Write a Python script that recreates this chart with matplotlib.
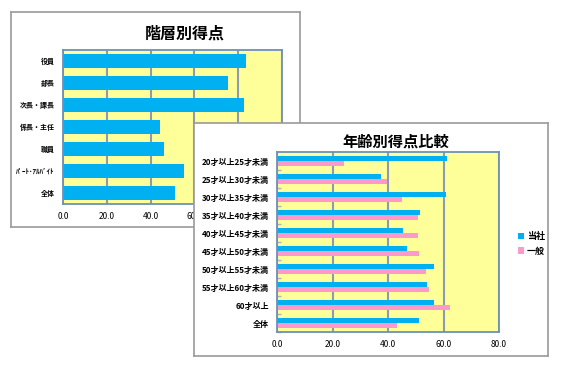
import matplotlib.pyplot as plt
import numpy as np

plt.rcParams['font.family'] = ['Noto Sans CJK JP', 'DejaVu Sans']

# chart 1 data
rank_labels = ['役員', '部長', '次長・課長', '係長・主任', '職員', 'ﾊﾟｰﾄ･ｱﾙﾊﾞｲﾄ', '全体']
rank_scores = [83.4, 75.3, 82.5, 44.3, 46.1, 55.4, 51.1]

# chart 2 data
age_labels = ['20才以上25才未満', '25才以上30才未満', '30才以上35才未満', '35才以上40才未満',
              '40才以上45才未満', '45才以上50才未満', '50才以上55才未満', '55才以上60才未満',
              '60才以上', '全体']
company_scores = [61.3, 37.6, 60.8, 51.4, 45.4, 46.7, 56.7, 53.9, 56.7, 51.1]
general_scores = [24.0, 39.6, 44.9, 50.7, 50.9, 51.3, 53.8, 54.9, 62.5, 43.1]
series_names = ['当社', '一般']

W, H = 564, 371
BLUE = '#00b0f0'
PINK = '#ff99cc'
YELLOW = '#ffff99'
GRID = '#8c9cb0'
BORDER = '#7090b8'
FRAME = '#9a9a9a'

fig = plt.figure(figsize=(W / 100, H / 100), dpi=100)


def px_axes(x0, y0, x1, y1, z):
    return fig.add_axes([x0 / W, 1 - y1 / H, (x1 - x0) / W, (y1 - y0) / H], zorder=z)


def frame_box(x0, y0, x1, y1, z):
    ax = px_axes(x0, y0, x1, y1, z)
    ax.set_xticks([])
    ax.set_yticks([])
    ax.set_facecolor('white')
    for s in ax.spines.values():
        s.set_color(FRAME)
        s.set_linewidth(1.2)
    return ax


def style_plot(ax):
    ax.set_facecolor(YELLOW)
    for s in ax.spines.values():
        s.set_color(BORDER)
        s.set_linewidth(1.3)
    ax.grid(axis='x', color=GRID, linewidth=1.5)
    ax.set_axisbelow(True)
    ax.tick_params(axis='x', length=0, labelsize=6, pad=6)
    ax.tick_params(axis='y', length=0, pad=6)


# ---- chart 1 (partly hidden behind chart 2) ----
fr1 = frame_box(11, 12, 300, 227, 1)
fr1.text(0.6, 0.9, '階層別得点', transform=fr1.transAxes, ha='center', va='center',
         fontsize=11.5, fontweight='bold')

ax1 = px_axes(63, 50, 282, 204, 2)
style_plot(ax1)
y1 = np.arange(len(rank_labels))
ax1.barh(y1, rank_scores, height=0.6, color=BLUE)
ax1.set_xlim(0, 100)
ax1.set_ylim(len(rank_labels) - 0.5, -0.5)
ticks1 = np.arange(0, 101, 20)
ax1.set_xticks(ticks1)
# labels 80.0 and 100.0 sit under chart 2 anyway
ax1.set_xticklabels([f'{v:.1f}' if v <= 60 else '' for v in ticks1])
ax1.set_yticks(y1)
ax1.set_yticklabels(rank_labels, fontsize=5, fontweight='bold')

# ---- chart 2 ----
fr2 = frame_box(194, 123, 548, 356, 3)
fr2.text(0.57, 0.92, '年齢別得点比較', transform=fr2.transAxes, ha='center', va='center',
         fontsize=11, fontweight='bold')

ax2 = px_axes(277, 152, 499, 332, 4)
style_plot(ax2)
y2 = np.arange(len(age_labels))
bh = 0.3
ax2.barh(y2 - bh / 2, company_scores, height=bh, color=BLUE, label=series_names[0])
ax2.barh(y2 + bh / 2, general_scores, height=bh, color=PINK, label=series_names[1])
ax2.set_xlim(0, 80)
ax2.set_ylim(len(age_labels) - 0.5, -0.5)
ticks2 = np.arange(0, 81, 20)
ax2.set_xticks(ticks2)
ax2.set_xticklabels([f'{v:.1f}' for v in ticks2])
ax2.set_yticks(y2)
ax2.set_yticklabels(age_labels, fontsize=5.8, fontweight='bold')
ax2.set_yticks(y2 + 0.5, minor=True)
ax2.tick_params(axis='y', which='minor', direction='in', length=3, color='#b0b0b0', width=1)

leg = fig.legend(loc='center left', bbox_to_anchor=(513 / W, 1 - 244 / H), frameon=False,
                 fontsize=6.5, handlelength=0.7, handleheight=0.7, handletextpad=0.3,
                 labelspacing=0.6, borderpad=0, prop={'weight': 'bold', 'size': 6.5})
leg.set_zorder(5)

fig.savefig('out.png', dpi=100)
